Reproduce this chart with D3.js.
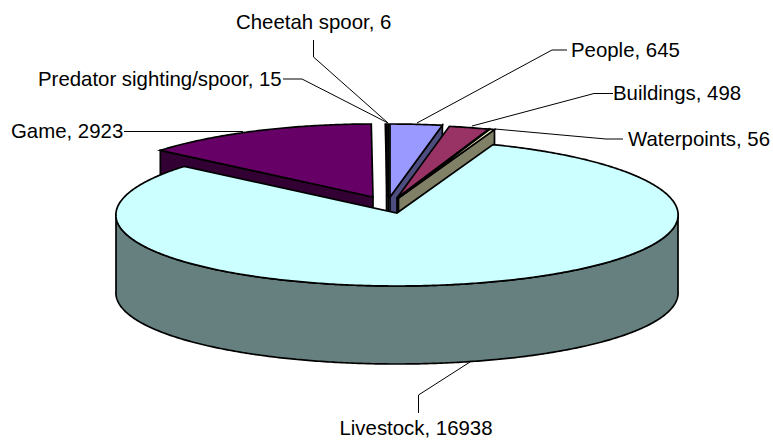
<!DOCTYPE html>
<html>
<head>
<meta charset="utf-8">
<style>
html,body{margin:0;padding:0;background:#fff;}
svg{display:block;}
text{font-family:"Liberation Sans",Arial,sans-serif;font-size:20.4px;fill:#000;}
</style>
<script src="https://d3js.org/d3.v7.min.js"></script>
</head>
<body>
<svg id="c" width="773" height="441"></svg>
<script>
const categories = ["People","Buildings","Waterpoints","Livestock","Game","Predator sighting/spoor","Cheetah spoor"];
const values = [645,498,56,16938,2923,15,6];
const topColors = ["#9999ff","#993366","#ffffcc","#ccffff","#660066","#ff8080","#0066cc"];
const wallColors = ["#4d4d80","#4d1a33","#808066","#668080","#330033","#804040","#003366"];

// layout
const W = 773, H = 441;
const RX = 281, RY = 73, DEPTH = 78, PERSP = 0.025;
const apexes = [[390,197],[397,198],[398.5,198],[397,213],[373,197],[387,197],[388.5,197]];
const labelAnchors = [[571,50,"start"],[613,93,"start"],[628,139,"start"],[416,428,"middle"],[11,131,"start"],[38,79,"start"],[236,22,"start"]];
const leaders = [
  [[567,50],[552,50],[417,123]],
  [[613,93.5],[594,93.5],[472,126]],
  [[623,139],[606,139],[495,129]],
  [[418.5,413],[418.5,395],[470,362]],
  [[124,131.5],[243,131.5]],
  [[283,79],[302,79],[388,123]],
  [[313.5,40],[313.5,57],[388,123]]
];

const svg = d3.select("#c");
const pieGen = d3.pie().sort(null).value(d=>d).startAngle(0).endAngle(2*Math.PI);
const arcs = pieGen(values);
const pt = (i,a,dz=0)=>{
  const [cx,cy]=apexes[i];
  return [cx+RX*Math.sin(a)*(1-PERSP*Math.cos(a)), cy-RY*Math.cos(a)+dz];
};
const line = d3.line();
const sample = (a0,a1)=>{
  const n=Math.max(2,Math.ceil(Math.abs(a1-a0)/0.01));
  return d3.range(n+1).map(k=>a0+(a1-a0)*k/n);
};
const sector = i=>{
  const s=arcs[i];
  return line([apexes[i],...sample(s.startAngle,s.endAngle).map(a=>pt(i,a))])+"Z";
};
const cutWall = (i,a)=>{
  const [cx,cy]=apexes[i];
  const e=pt(i,a), f=pt(i,a,DEPTH);
  return line([[cx,cy],e,f,[cx,cy+DEPTH]])+"Z";
};
const SW = 1.7;
const g = svg.append("g").attr("stroke","#000").attr("stroke-width",SW).attr("stroke-linejoin","miter");

// Game: wall at its leading cut, then top
g.append("path").attr("d",cutWall(4,arcs[4].startAngle)).attr("fill",wallColors[4]);
g.append("path").attr("d",sector(4)).attr("fill",topColors[4]);
// very thin slices
[5,6].forEach(i=>{
  g.append("path").attr("d",cutWall(i,arcs[i].endAngle)).attr("fill",wallColors[i]);
  g.append("path").attr("d",sector(i)).attr("fill",topColors[i]);
});
// People, Buildings, Waterpoints back to front
[0,1,2].forEach(i=>{
  g.append("path").attr("d",cutWall(i,arcs[i].endAngle)).attr("fill",wallColors[i]);
  g.append("path").attr("d",sector(i)).attr("fill",topColors[i]);
});
// Livestock rim and top
const rimAngles = sample(Math.PI/2,3*Math.PI/2);
g.append("path")
  .attr("d",line([...rimAngles.map(a=>pt(3,a)),...rimAngles.slice().reverse().map(a=>pt(3,a,DEPTH))])+"Z")
  .attr("fill",wallColors[3]);
g.append("path").attr("d",sector(3)).attr("fill",topColors[3]);

// leaders
svg.append("g").attr("fill","none").attr("stroke","#000").attr("stroke-width",1)
  .selectAll("path").data(leaders).join("path").attr("d",d=>line(d));

// labels
svg.append("g").selectAll("text").data(categories).join("text")
  .attr("x",(d,i)=>labelAnchors[i][0])
  .attr("y",(d,i)=>labelAnchors[i][1])
  .attr("dy","0.35em")
  .attr("text-anchor",(d,i)=>labelAnchors[i][2])
  .text((d,i)=>`${d}, ${values[i]}`);
</script>
</body>
</html>
